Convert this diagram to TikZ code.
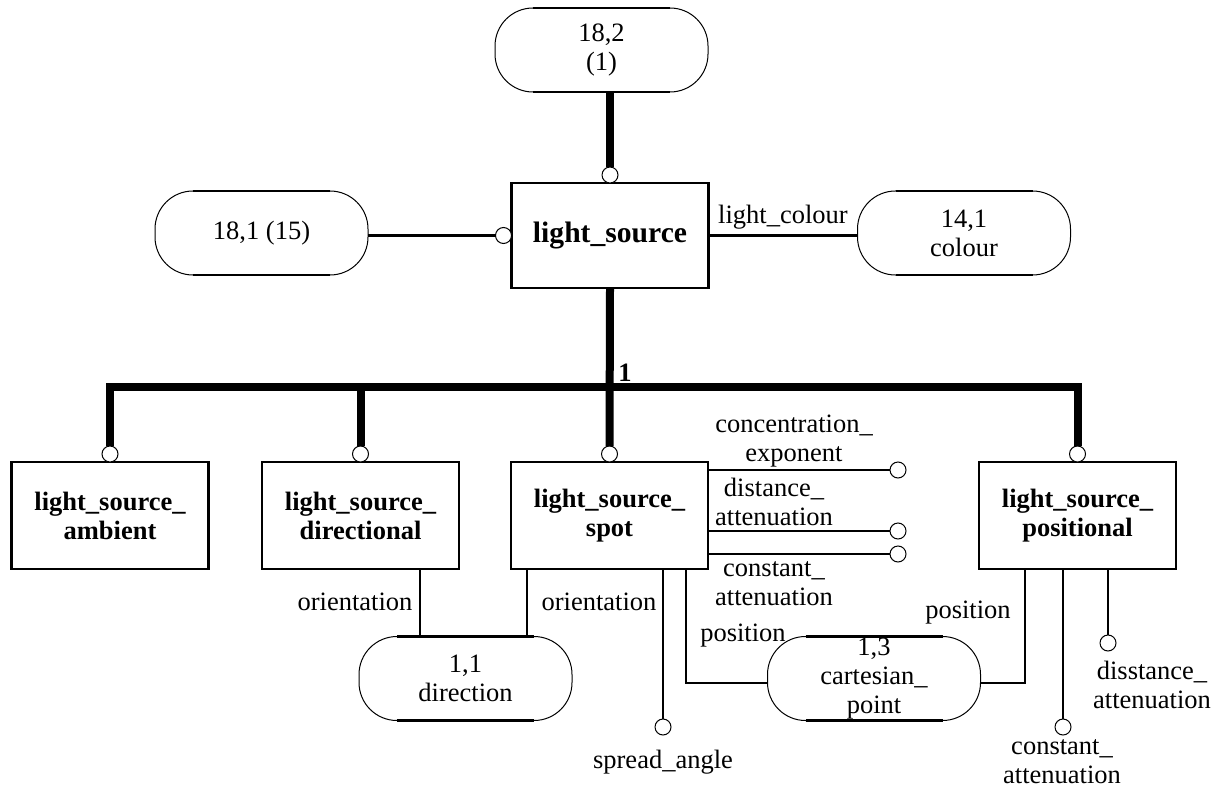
\documentclass[tikz,border=0pt]{standalone}
\usepackage{fontspec}
\setmainfont{Liberation Serif}
\usetikzlibrary{positioning}

\begin{document}
\begin{tikzpicture}[x=0.5pt,y=-0.5pt,
    every node/.style={font=\fontsize{13.25}{14.5}\selectfont, align=center, outer sep=0pt},
    ent/.style={draw, line width=0.5pt, rounded corners=19pt, minimum width=106.5pt,
        minimum height=42pt, inner sep=0pt},
    cls/.style={draw, line width=1.4pt, minimum width=98.5pt, minimum height=53.5pt,
        font=\fontsize{13.25}{14.5}\selectfont\bfseries},
    ring/.style={circle, draw, fill=white, line width=0.5pt, minimum size=8pt, inner sep=0pt},
    link/.style={line width=1.1pt},
    bold/.style={line width=4pt}]
    \useasboundingbox (0,0) rectangle (1224,791);

    % entities
    \node[ent] (whole) at (601.5,50) {18,2\\(1)};
    \node[ent] (super) at (261.5,233) {18,1 (15)};
    \node[ent] (colour) at (964,233) {14,1\\colour};
    \node[ent] (dirc) at (465.5,678.5) {1,1\\direction};
    \node[ent] (cart) at (874,678.5) {1,3\\cartesian\_\\point};
    \foreach \n in {whole,super,colour,dirc,cart}{
        \draw[line width=1.3pt] ([xshift=19pt]\n.north west) -- ([xshift=-19pt]\n.north east);
        \draw[line width=1.3pt] ([xshift=19pt]\n.south west) -- ([xshift=-19pt]\n.south east);
    }

    % classes
    \node[cls, minimum height=52.5pt, font=\fontsize{14.8}{16}\selectfont\bfseries] (ls) at (610,235.5) {light\_source};
    \node[cls] (amb) at (110,515.5) {light\_source\_\\ambient};
    \node[cls] (dirl) at (360.5,515.5) {light\_source\_\\directional};
    \node[cls] (spot) at (609.5,515.5) {light\_source\_\\spot};
    \node[cls] (pos) at (1077.5,515.5) {light\_source\_\\positional};

    % supertype and attributes of light_source
    \node[ring, above=0pt of ls] (ls-r) {};
    \node[ring, left=0pt of ls] (ls-l) {};
    \draw[bold] (whole.south -| ls-r) -- (ls-r.north);
    \draw[link] (super.east |- ls-l) -- (ls-l.west);
    \draw[link] (ls.east) -- (colour.west |- ls.east) node[midway, above] (lc) {light\_colour};

    % subtype tree
    \foreach \s in {amb,dirl,spot,pos}
        \node[ring, above=0pt of \s] (\s-r) {};
    \coordinate (bus) at (610,387);
    \draw[bold] (ls.south) -- (spot-r.north);
    \draw[bold] (amb-r.north) |- (bus) -| (pos-r.north);
    \draw[bold] (dirl-r.north) -- (dirl-r.north |- bus);
    \node[font=\fontsize{13.25}{14.5}\selectfont\bfseries] (one) at (625,373) {1};

    % spot attributes
    \node[ring] (ce) at (898,470) {};
    \node[ring] (da) at (898,531) {};
    \node[ring] (ca) at (898,554) {};
    \foreach \r in {ce,da,ca}
        \draw[link] (spot.east |- \r) -- (\r.west);
    \node (ce-l) at (794,441) {concentration\_\\exponent};
    \node (da-l) at (774,502) {distance\_\\attenuation};
    \node (ca-l) at (774,584) {constant\_\\attenuation};

    % orientation
    \draw[link] ([xshift=29.75pt]dirl.south) -- ([xshift=29.75pt]dirl.south |- dirc.north);
    \draw[link] ([xshift=-41.25pt]spot.south) -- ([xshift=-41.25pt]spot.south |- dirc.north);
    \node (or1) at (355,602) {orientation};
    \node (or2) at (599,602) {orientation};

    % spread angle
    \node[ring] (sa) at (663,727) {};
    \draw[link] (spot.south -| sa) -- (sa.north);
    \node (sa-l) at (663,762) {spread\_angle};

    % position
    \draw[link] ([xshift=38.25pt]spot.south) |- ([yshift=-2.25pt]cart.west);
    \draw[link] ([xshift=-26.25pt]pos.south) |- ([yshift=-2.25pt]cart.east);
    \node (po1) at (743,636) {position};
    \node (po2) at (968,613) {position};

    % positional attributes
    \node[ring] (pca) at (1063,727) {};
    \node[ring] (pda) at (1108,643) {};
    \draw[link] (pos.south -| pca) -- (pca.north);
    \draw[link] (pos.south -| pda) -- (pda.north);
    \node (pda-l) at (1152,685) {disstance\_\\attenuation};
    \node (pca-l) at (1062,762) {constant\_\\attenuation};
\end{tikzpicture}
\end{document}
